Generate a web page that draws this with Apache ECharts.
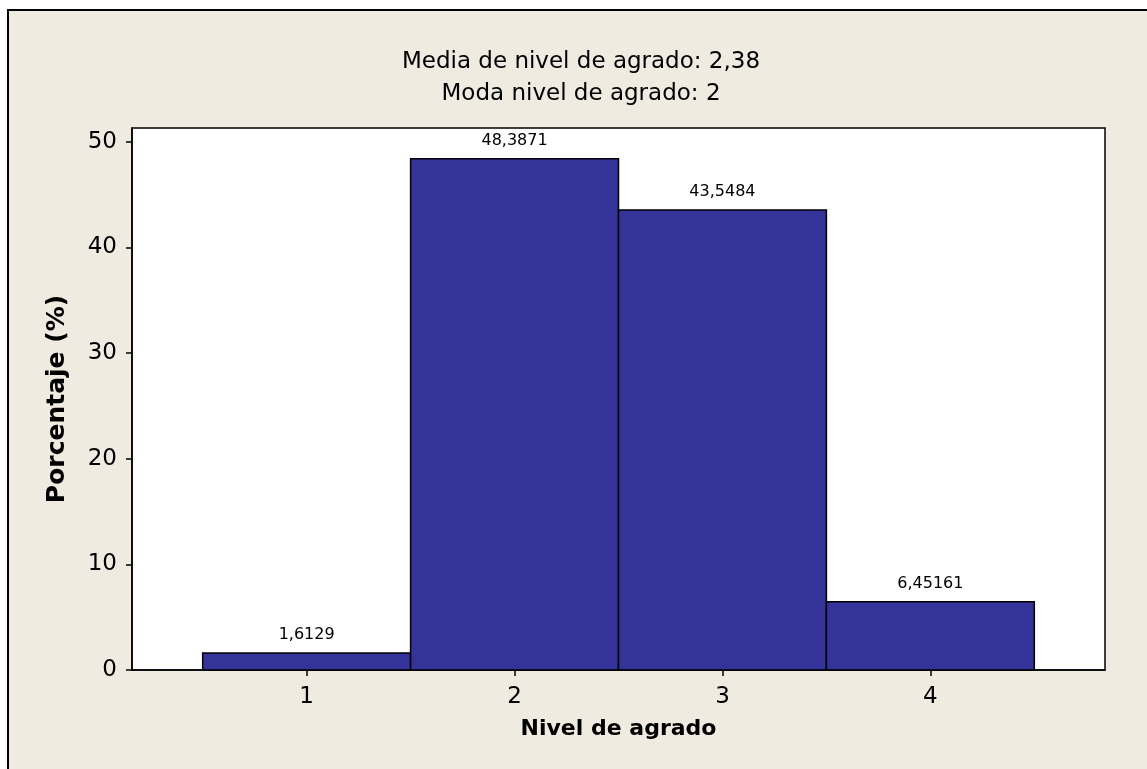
<!DOCTYPE html>
<html>
<head>
<meta charset="utf-8">
<script src="https://cdn.jsdelivr.net/npm/echarts@6/dist/echarts.min.js"></script>
<style>
  html, body { margin: 0; padding: 0; background: #ffffff; }
  #chartHist { width: 1147px; height: 769px; }
</style>
</head>
<body>
<div id="chartHist"></div>
<script>
const niveles = [1, 2, 3, 4]
const porcentajes = [1.6129, 48.3871, 43.5484, 6.45161]
const etiquetas = ['1,6129', '48,3871', '43,5484', '6,45161']
const yTicks = [0, 10, 20, 30, 40, 50]
const tituloLineas = ['Media de nivel de agrado: 2,38', 'Moda nivel de agrado: 2']

const fuente = 'DejaVu Sans'
const fondo = '#efebe1'

const datos = niveles.map((n, i) => [n, porcentajes[i], etiquetas[i]])

const option = {
  backgroundColor: '#ffffff',
  animation: false,
  textStyle: { fontFamily: fuente, color: '#000' },
  graphic: [
    {
      type: 'rect',
      z: -10,
      shape: { x: 8, y: 10, width: 1200, height: 800 },
      style: { fill: fondo, stroke: '#000', lineWidth: 2 }
    },
    // titulo en dos lineas
    {
      type: 'text',
      x: 581,
      y: 62,
      style: { text: tituloLineas[0], align: 'center', verticalAlign: 'middle', fontFamily: fuente, fontSize: 23, fill: '#000' }
    },
    {
      type: 'text',
      x: 581,
      y: 94,
      style: { text: tituloLineas[1], align: 'center', verticalAlign: 'middle', fontFamily: fuente, fontSize: 23, fill: '#000' }
    }
  ],
  grid: {
    left: 132,
    top: 128,
    right: 42,
    bottom: 99,
    show: true,
    backgroundColor: '#ffffff',
    borderColor: '#000',
    borderWidth: 1.5
  },
  xAxis: {
    type: 'value',
    min: 0.16,
    max: 4.84,
    name: 'Nivel de agrado',
    nameLocation: 'middle',
    nameGap: 48,
    nameTextStyle: { fontFamily: fuente, fontSize: 22, fontWeight: 'bold', color: '#000' },
    splitLine: { show: false },
    axisLine: { show: true, lineStyle: { color: '#000', width: 1.5 } },
    axisTick: { show: true, length: 6, inside: false, customValues: niveles, lineStyle: { color: '#000', width: 1.5 } },
    axisLabel: { customValues: niveles, fontSize: 23, color: '#000', margin: 16, fontFamily: fuente }
  },
  yAxis: {
    type: 'value',
    min: 0,
    max: 51.3,
    name: 'Porcentaje (%)',
    nameLocation: 'middle',
    nameGap: 62,
    nameTextStyle: { fontFamily: fuente, fontSize: 25, fontWeight: 'bold', color: '#000' },
    splitLine: { show: false },
    axisLine: { show: true, lineStyle: { color: '#000', width: 1.5 } },
    axisTick: { show: true, length: 6, customValues: yTicks, lineStyle: { color: '#000', width: 1.5 } },
    axisLabel: { customValues: yTicks, fontSize: 23, color: '#000', margin: 15, fontFamily: fuente }
  },
  series: [
    {
      type: 'custom',
      data: datos,
      renderItem: function (params, api) {
        const x = api.value(0)
        const y = api.value(1)
        const p0 = api.coord([x - 0.5, 0])
        const p1 = api.coord([x + 0.5, y])
        return {
          type: 'group',
          children: [
            {
              type: 'rect',
              shape: { x: p0[0], y: p1[1], width: p1[0] - p0[0], height: p0[1] - p1[1] },
              style: { fill: '#333399', stroke: '#000', lineWidth: 1.5 }
            },
            {
              type: 'text',
              style: {
                text: api.value(2),
                x: (p0[0] + p1[0]) / 2,
                y: p1[1] - 10,
                align: 'center',
                verticalAlign: 'bottom',
                fontFamily: fuente,
                fontSize: 16,
                fill: '#000'
              }
            }
          ]
        }
      }
    }
  ]
}

var myChart = echarts.init(document.getElementById('chartHist'))
myChart.setOption(option)
window.addEventListener('resize', () => {
  myChart.resize()
})
</script>
</body>
</html>
